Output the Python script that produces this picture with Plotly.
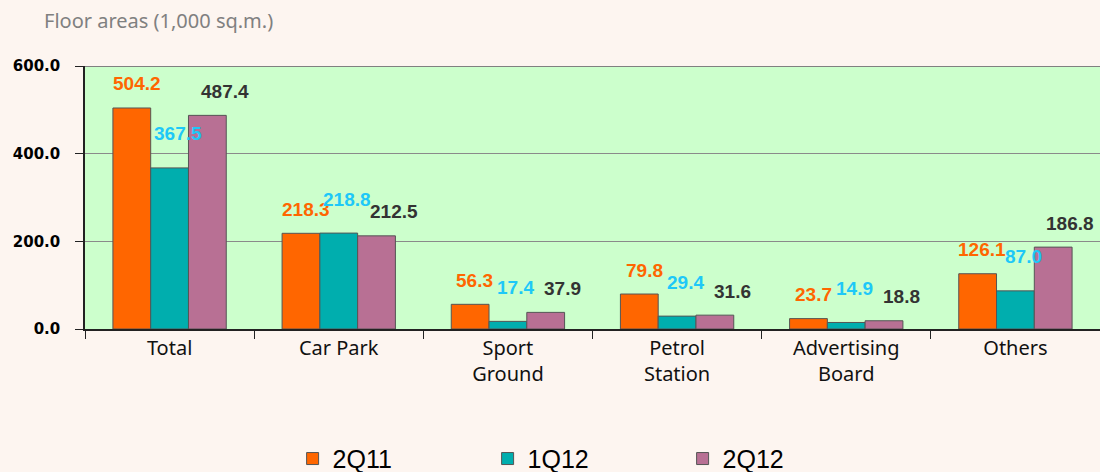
import plotly.graph_objects as go

categories = ["Total", "Car Park", "Sport<br>Ground", "Petrol<br>Station", "Advertising<br>Board", "Others"]
series_names = ["2Q11", "1Q12", "2Q12"]
v_2q11 = [504.2, 218.3, 56.3, 79.8, 23.7, 126.1]
v_1q12 = [367.5, 218.8, 17.4, 29.4, 14.9, 87.0]
v_2q12 = [487.4, 212.5, 37.9, 31.6, 18.8, 186.8]
y_ticks = [0, 200, 400, 600]

bar_colors = ["#FF6600", "#00AEAE", "#B87094"]
label_colors = ["#FF6600", "#1EC8F8", "#333333"]
label_xshift = [-33, 8, 55]
label_yshift = [24, 34, 24]

fig = go.Figure()
for name, vals, col in zip(series_names, [v_2q11, v_1q12, v_2q12], bar_colors):
    fig.add_trace(go.Bar(
        x=categories, y=vals, name=name,
        marker=dict(color=col, line=dict(color="#555555", width=1)),
    ))

for i, vals in enumerate([v_2q11, v_1q12, v_2q12]):
    for c, v in zip(categories, vals):
        fig.add_annotation(
            x=c, y=v, xref="x", yref="y", text=f"<b>{v:.1f}</b>", showarrow=False,
            xshift=label_xshift[i], yshift=label_yshift[i],
            font=dict(family="Liberation Sans, Arial", size=19, color=label_colors[i]),
        )

fig.add_annotation(
    x=(42 - 85) / 1015, y=1 + (66 - 20) / 263, xref="paper", yref="paper",
    text="Floor areas (1,000 sq.m.)",
    showarrow=False, xanchor="left", yanchor="middle",
    font=dict(family="Noto Sans", size=20, color="#808080"),
)

# top border line of the plot area at the top of the value axis
fig.add_shape(type="line", xref="paper", yref="y", x0=0, x1=1, y0=max(y_ticks), y1=max(y_ticks),
              line=dict(color="#808080", width=2))

fig.update_layout(
    width=1100, height=472,
    margin=dict(l=85, r=0, t=66, b=143),
    paper_bgcolor="#FDF5F0",
    plot_bgcolor="#CCFFCC",
    barmode="group",
    bargap=0.33,
    bargroupgap=0,
    showlegend=True,
    legend=dict(
        orientation="h", x=0.266, xref="container", y=0.028, yref="container",
        xanchor="left", yanchor="middle",
        font=dict(family="Liberation Sans, Arial", size=25, color="#000000"),
        entrywidth=150, itemwidth=30,
        bgcolor="rgba(0,0,0,0)",
    ),
    xaxis=dict(
        showline=True, linecolor="#222222", linewidth=1.5,
        ticks="outside", tickson="boundaries", ticklen=8, tickcolor="#222222",
        tickfont=dict(family="Noto Sans", size=20, color="#111111"),
        showgrid=False,
    ),
    yaxis=dict(
        range=[0, 600], tickvals=y_ticks, ticktext=[f"<b>{t:.1f}</b>" for t in y_ticks],
        showline=True, linecolor="#222222", linewidth=1.5,
        ticks="outside", ticklen=8, tickcolor="#222222",
        ticklabelstandoff=12,
        tickfont=dict(family="DejaVu Sans", size=15, color="#000000"),
        showgrid=True, gridcolor="#8a8a8a", gridwidth=1,
        zeroline=False,
    ),
)

fig.write_html("out.html", config={"displayModeBar": False},
               post_script="document.body.style.margin='0';document.body.style.background='#FDF5F0';")
